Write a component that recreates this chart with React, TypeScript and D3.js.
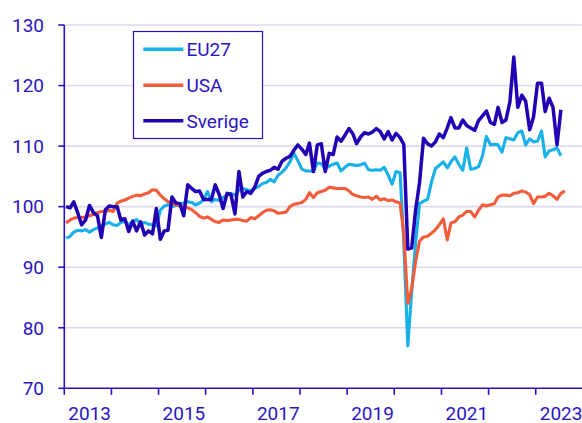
import React from 'react';
import * as d3 from 'd3';

const yearTicks = d3.range(2013, 2025);
const yearLabels = [2013, 2015, 2017, 2019, 2021, 2023];
const yTicks = [70, 80, 90, 100, 110, 120, 130];
const seriesNames = ['EU27', 'USA', 'Sverige'];
const seriesColors = ['#17b0e8', '#f25c3b', '#2200b4'];

// Monthly values, starting January 2013
const eu27 = [
  94.8, 95.1, 95.8, 96.1, 96.0, 96.2, 95.8, 96.2, 96.5, 96.8, 97.1, 97.4,
  97.0, 96.9, 97.4, 97.6, 97.0, 97.5, 97.9, 97.1, 97.4, 97.1, 97.0, 96.8,
  99.4, 100.1, 100.3, 100.0, 100.2, 100.5, 100.6, 100.8, 100.7, 100.3, 100.6, 101.1,
  102.5, 100.8, 101.2, 101.0, 101.5, 101.9, 102.2, 101.9, 102.7, 103.0, 102.8, 102.6,
  103.0, 103.3, 103.8, 104.0, 104.5, 104.1, 105.2, 105.7, 106.4, 107.4, 108.8, 107.6,
  106.2, 105.9, 105.9, 105.8, 107.2, 107.1, 106.2, 106.7, 107.0, 107.2, 105.9, 106.5,
  107.0, 106.9, 106.8, 106.9, 107.2, 106.1, 106.0, 106.1, 106.0, 106.5, 105.2, 103.7,
  105.8, 105.6, 94.0, 77.0, 86.0, 94.2, 100.5, 100.9, 101.2, 104.0, 106.3, 106.8,
  107.4, 106.4, 107.4, 108.2, 107.0, 106.0, 109.7, 106.2, 106.3, 106.6, 108.4, 111.6,
  110.2, 110.3, 110.2, 109.0, 111.4, 111.2, 111.0, 112.2, 112.5, 110.2, 111.2, 110.7,
  110.8, 112.5, 108.2, 109.2, 109.4, 109.7, 108.4,
];

const usa = [
  97.3, 97.8, 98.1, 98.2, 98.2, 98.3, 98.5, 98.7, 99.0, 99.2, 99.2, 99.4,
  99.2, 100.6, 100.9, 101.1, 101.4, 101.7, 101.9, 101.8, 102.1, 102.3, 102.8, 102.7,
  101.9, 101.3, 100.8, 100.6, 100.3, 100.1, 100.0, 99.8, 99.5, 99.0, 98.4, 98.1,
  98.3, 97.9, 97.5, 97.4, 97.8, 97.7, 97.8, 97.9, 97.9, 97.7, 97.6, 98.2,
  98.0, 98.5, 99.0, 99.4, 99.5, 99.3, 98.9, 99.0, 99.1, 100.0, 100.4, 100.5,
  100.7, 101.2, 102.3, 101.5, 102.3, 102.5, 102.7, 103.2, 103.1, 103.0, 103.0, 103.0,
  102.6, 102.0, 101.8, 101.6, 101.5, 101.6, 101.2, 101.7, 101.1, 101.3, 101.0, 101.1,
  100.8, 100.6, 95.5, 84.0, 86.5, 91.0, 94.3, 95.0, 95.1, 95.6, 96.2, 97.0,
  98.0, 94.5, 97.3, 97.5, 98.3, 98.6, 99.2, 99.2, 98.3, 99.4, 100.3, 100.1,
  100.3, 100.5, 101.6, 101.9, 101.9, 101.8, 102.2, 102.3, 102.6, 102.4, 102.0, 100.5,
  101.6, 101.6, 101.7, 102.2, 101.8, 101.2, 102.2, 102.6,
];

const sverige = [
  100.0, 99.8, 100.8, 99.0, 97.0, 97.8, 100.2, 99.0, 98.5, 94.9, 99.5, 100.1,
  100.0, 100.0, 97.8, 98.0, 95.9, 97.6, 96.0, 97.5, 95.3, 96.0, 95.5, 99.7,
  94.6, 96.0, 96.1, 101.6, 100.6, 100.5, 98.5, 103.6, 103.0, 102.5, 102.6, 101.2,
  101.2, 101.2, 103.6, 102.0, 99.7, 102.2, 102.0, 98.8, 105.8, 101.6, 102.5, 102.2,
  103.2, 105.0, 105.5, 105.8, 106.0, 106.5, 106.2, 107.5, 108.0, 108.3, 109.3, 110.2,
  109.5, 108.6, 110.5, 105.8, 110.2, 110.4, 105.8, 108.8, 108.6, 111.5, 110.8, 111.8,
  112.9, 112.0, 110.4, 111.5, 112.2, 112.0, 112.3, 112.9, 112.4, 111.2, 112.4, 111.0,
  112.1, 111.4, 110.3, 93.0, 93.2, 99.5, 104.0, 111.3, 110.4, 110.0, 110.7, 112.0,
  111.4, 113.0, 114.7, 113.0, 113.0, 114.3, 113.4, 113.0, 112.6, 114.2, 115.0, 115.8,
  113.9, 113.6, 116.4, 113.9, 114.3, 117.3, 124.7, 116.4, 118.4, 117.4, 112.7, 114.8,
  120.4, 120.4, 115.7, 117.9, 116.4, 110.2, 116.0,
];

const seriesData = [eu27, usa, sverige];

export default function App() {
  const W = 582;
  const H = 423;
  const left = 64.3;
  const bottom = 388.3;
  const top = 25;
  const axisColor = '#2a10c2';
  const textColor = '#2a14c6';
  const gridColor = '#dadaf1';
  const font = 'Roboto, sans-serif';
  const fs = 19;

  const x = d3
    .scaleTime()
    .domain([new Date(2013, 0, 1), new Date(2024, 0, 1)])
    .range([left, left + 11 * 47.14]);
  const y = d3.scaleLinear().domain([70, 130]).range([bottom, top]);
  const dateOf = (i: number) => new Date(2013, i, 15);
  const line = d3
    .line<number>()
    .x((_d, i) => x(dateOf(i)))
    .y((d) => y(d));

  const legendX = 133.5;
  const legendY = 31.5;
  const legendW = 129;
  const legendH = 107;
  const legendRows = [49.3, 85.3, 120.7];

  return (
    <svg
      width={W}
      height={H}
      style={{ position: 'absolute', left: 0, top: 0, display: 'block', background: '#fff' }}
      fontFamily={font}
    >
      {/* grid */}
      {yTicks
        .filter((t) => t !== 70)
        .map((t) => (
          <line key={'g' + t} x1={left} x2={W} y1={y(t)} y2={y(t)} stroke={gridColor} strokeWidth={1.6} />
        ))}

      {/* series */}
      {seriesData.map((s, k) => (
        <path
          key={seriesNames[k]}
          d={line(s) || ''}
          fill="none"
          stroke={seriesColors[k]}
          strokeWidth={k === 2 ? 3.5 : 3.1}
          strokeLinejoin="round"
          strokeLinecap="butt"
        />
      ))}

      {/* y axis */}
      <line x1={left} x2={left} y1={top} y2={bottom} stroke={axisColor} strokeWidth={1.6} />
      {yTicks.map((t) => (
        <g key={'y' + t}>
          <line x1={left - 6} x2={left} y1={y(t)} y2={y(t)} stroke={axisColor} strokeWidth={1.6} />
          <text x={44} y={y(t)} dy="0.36em" textAnchor="end" fontSize={fs} fill={textColor}>
            {t}
          </text>
        </g>
      ))}

      {/* x axis */}
      <line x1={left} x2={W} y1={bottom} y2={bottom} stroke={axisColor} strokeWidth={1.6} />
      {yearTicks.map((yr) => (
        <line
          key={'xt' + yr}
          x1={x(new Date(yr, 0, 1))}
          x2={x(new Date(yr, 0, 1))}
          y1={bottom}
          y2={bottom + 6.5}
          stroke={axisColor}
          strokeWidth={1.6}
        />
      ))}
      {yearLabels.map((yr) => (
        <text
          key={'xl' + yr}
          x={x(new Date(yr, 6, 1)) + 2}
          y={419.5}
          textAnchor="middle"
          fontSize={fs}
          fill={textColor}
        >
          {yr}
        </text>
      ))}

      {/* legend */}
      <rect x={legendX} y={legendY} width={legendW} height={legendH} fill="#fff" stroke={axisColor} strokeWidth={1.2} />
      {seriesNames.map((n, k) => (
        <g key={'lg' + n}>
          <line
            x1={143.3}
            x2={183.3}
            y1={legendRows[k]}
            y2={legendRows[k]}
            stroke={seriesColors[k]}
            strokeWidth={3.4}
          />
          <text x={186.5} y={legendRows[k]} dy="0.36em" fontSize={fs} fill={textColor}>
            {n}
          </text>
        </g>
      ))}
    </svg>
  );
}
